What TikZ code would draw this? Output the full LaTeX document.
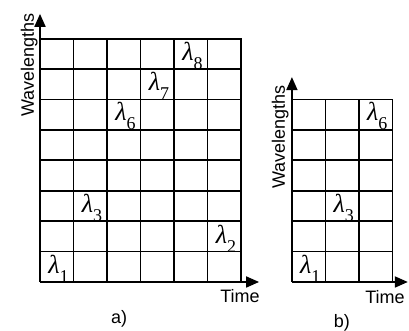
\documentclass[tikz,border=0pt]{standalone}
\usepackage{fontspec}
\setmainfont{Liberation Sans}
\newfontfamily\lamfont{Liberation Serif}
\usepackage{tikz}
\usetikzlibrary{positioning,arrows.meta,calc}

% wavelength label: lambda with lowered index
\newcommand{\wl}[1]{{\lamfont\itshape λ}\raisebox{-9pt}{\fontsize{18}{18}\selectfont\lamfont #1}}

\begin{document}
\begin{tikzpicture}[
  x=33.5pt, y=30.4pt,
  gridline/.style={line width=1.8pt, line cap=rect},
  axis/.style={line width=1.8pt, -{Triangle[length=13pt,width=11pt]}},
  lam/.style={inner sep=0pt, font=\fontsize{26}{26}\selectfont},
  axlabel/.style={inner sep=0pt, font=\fontsize{18}{18}\selectfont},
  caption/.style={inner sep=0pt, font=\fontsize{18}{18}\selectfont}
]
  \useasboundingbox (-1.194,-1.612) rectangle (11.015,9.276);

  % a) eight wavelengths
  \foreach \i in {1,...,6} \draw[gridline] (\i,0) -- (\i,8);
  \foreach \j in {1,...,8} \draw[gridline] (0,\j) -- (6,\j);
  \coordinate (oA) at (0,0);
  \coordinate (yA) at (0,8.82);
  \coordinate (xA) at (6.54,0);
  \draw[axis] (oA) -- (yA);
  \draw[axis] (oA) -- (xA);

  \node[lam] (lamA1) at (0.55,0.42) {\wl{1}};
  \node[lam] (lamA3) at (1.55,2.42) {\wl{3}};
  \node[lam] (lamA2) at (5.55,1.42) {\wl{2}};
  \node[lam] (lamA6) at (2.55,5.45) {\wl{6}};
  \node[lam] (lamA7) at (3.55,6.45) {\wl{7}};
  \node[lam] (lamA8) at (4.55,7.45) {\wl{8}};

  \node[axlabel, rotate=90, anchor=base] (wavA) at (-0.18,7.14) {Wavelengths};
  \node[axlabel] (timeA) at (5.97,-0.46) {Time};
  \node[caption] (capA) at (2.36,-1.22) {a)};

  % b) three wavelengths
  \begin{scope}[shift={(7.52,0)}]
    \foreach \i in {1,...,3} \draw[gridline] (\i,0) -- (\i,6);
    \foreach \j in {1,...,6} \draw[gridline] (0,\j) -- (3,\j);
    \coordinate (oB) at (0,0);
    \coordinate (yB) at (0,6.74);
    \coordinate (xB) at (3.46,0);
    \draw[axis] (oB) -- (yB);
    \draw[axis] (oB) -- (xB);

    \node[lam] (lamB1) at (0.55,0.42) {\wl{1}};
    \node[lam] (lamB3) at (1.55,2.42) {\wl{3}};
    \node[lam] (lamB6) at (2.55,5.45) {\wl{6}};

    \node[axlabel, rotate=90, anchor=base] (wavB) at (-0.21,4.77) {Wavelengths};
    \node[axlabel] (timeB) at (2.78,-0.49) {Time};
    \node[caption] (capB) at (1.49,-1.35) {b)};
  \end{scope}
\end{tikzpicture}
\end{document}
